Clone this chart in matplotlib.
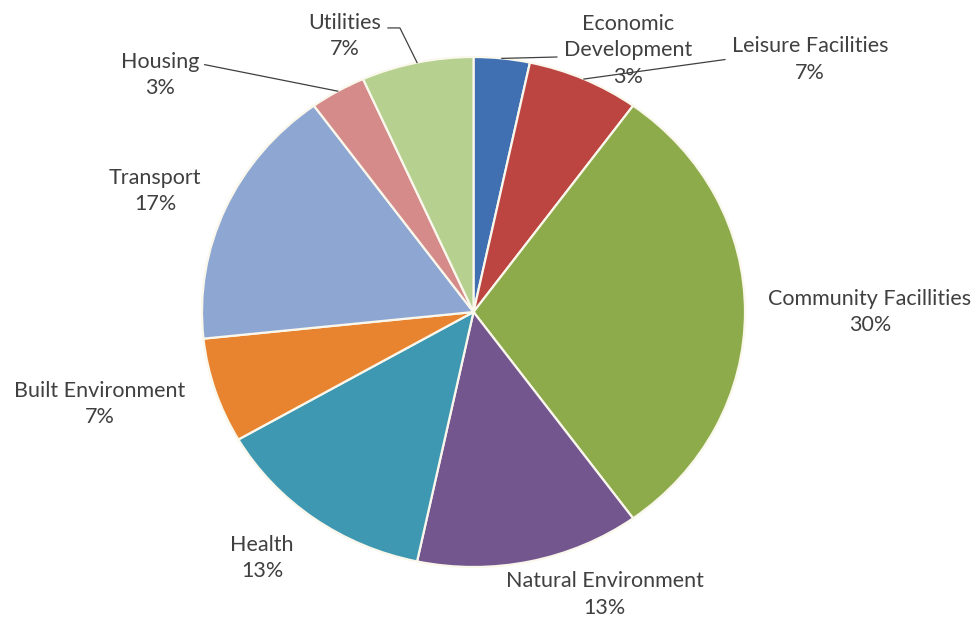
import numpy as np
import matplotlib.pyplot as plt

# survey categories, clockwise from 12 o'clock (counts out of 30)
categories = ['Economic\nDevelopment', 'Leisure Facilities', 'Community Facillities',
              'Natural Environment', 'Health', 'Built Environment', 'Transport',
              'Housing', 'Utilities']
counts = [1, 2, 9, 4, 4, 2, 5, 1, 2]
colors = ['#4170B2', '#BC4542', '#8DAB4B', '#74568F', '#3F98B1',
          '#E8842F', '#8EA6D2', '#D58B89', '#B5D08F']

# label centres (data units, pie radius = 1)
label_xy = [(0.571, 1.027), (1.24, 0.99), (1.46, 0.0), (0.484, -1.108), (-0.779, -0.965),
            (-1.376, -0.361), (-1.173, 0.475), (-1.155, 0.929), (-0.473, 1.082)]
# where the leader line meets the label (None = no leader)
leader_end = [(0.307, 1.0), (0.926, 0.99), None, None, None,
              None, None, (-0.99, 0.97), (-0.315, 1.114)]

fig = plt.figure(figsize=(9.8, 6.21), dpi=100)
ax = fig.add_axes([0, 0, 1, 1])

wedges, _ = ax.pie(counts, colors=colors, startangle=90, counterclock=False,
                   wedgeprops=dict(edgecolor='#FAF7EC', linewidth=1.6))

# stretch like the original (slightly wider than tall)
ax.set_aspect('auto')
ax.set_xlim(-473.5 / 271.5, (980 - 473.5) / 271.5)
ax.set_ylim((312 - 621) / 255, 312 / 255)
ax.axis('off')

total = sum(counts)
cum = np.cumsum([0] + counts)
for i, name in enumerate(categories):
    pct = round(100 * counts[i] / total)
    lx, ly = label_xy[i]
    ax.text(lx, ly, f"{name}\n{pct}%", ha='center', va='center', fontsize=15.5,
            family='Lato', color='#404040', linespacing=1.4)
    if leader_end[i] is not None:
        mid = np.deg2rad(90 - 360 * (cum[i] + counts[i] / 2) / total)
        ex, ey = np.cos(mid), np.sin(mid)
        tx, ty = leader_end[i]
        if name == 'Utilities':
            ax.plot([ex, tx + 0.044, tx], [ey, ty, ty], color='#404040', lw=0.9)
        else:
            ax.plot([ex, tx], [ey, ty], color='#404040', lw=0.9)

fig.savefig('out.png', dpi=100, facecolor='white')
